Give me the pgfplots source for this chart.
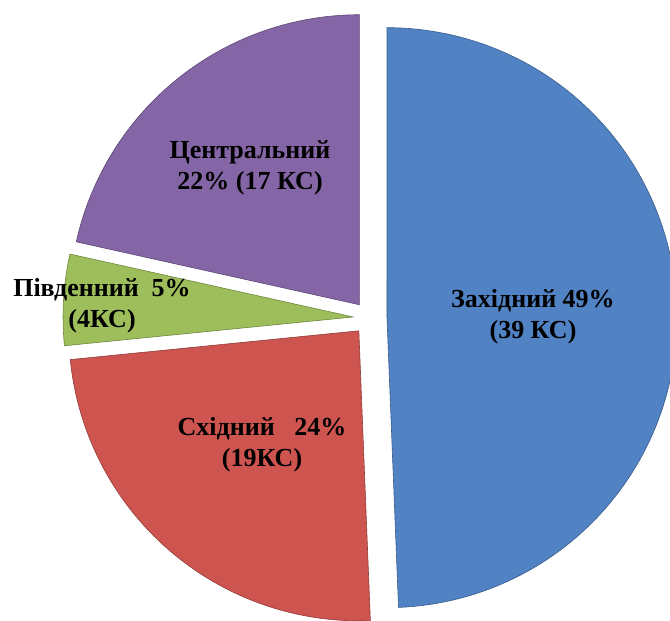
\documentclass[border=0pt]{standalone}
\usepackage{pgfplots}
\usepackage{pgfplotstable}
\pgfplotsset{compat=1.18}
\usepackage{fontspec}
\setmainfont{Liberation Serif}
\definecolor{wblue}{RGB}{81,130,196}
\definecolor{wred}{RGB}{206,84,80}
\definecolor{wgreen}{RGB}{157,190,90}
\definecolor{wpurple}{RGB}{132,102,166}

% counts of KS by region
\pgfplotstableread{
region count
West 39
East 19
South 4
Central 17
}\piedata

\newcommand\pieslice[3]{% start angle, end angle, colour
  \pgfmathsetmacro\midang{(#1+#2)/2}%
  \pgfmathsetmacro\vx{370+17*cos(\midang)}%
  \pgfmathsetmacro\vy{303+17*sin(\midang)}%
  \edef\doslice{\noexpand\addplot[fill=#3, draw=#3!70!black, line width=0.6pt, domain=#2:#1, samples=120]
    ({\vx+290*cos(x)},{\vy+290*sin(x)}) -- (axis cs:\vx,\vy) -- cycle;}%
  \doslice
}

\begin{document}
\begin{tikzpicture}
\pgfplotstablegetelem{0}{count}\of\piedata \let\cA\pgfplotsretval
\pgfplotstablegetelem{1}{count}\of\piedata \let\cB\pgfplotsretval
\pgfplotstablegetelem{2}{count}\of\piedata \let\cC\pgfplotsretval
\pgfplotstablegetelem{3}{count}\of\piedata \let\cD\pgfplotsretval
\pgfmathsetmacro\tot{\cA+\cB+\cC+\cD}
\pgfmathsetmacro\aA{90}
\pgfmathsetmacro\aB{\aA-360*\cA/\tot}
\pgfmathsetmacro\aC{\aB-360*\cB/\tot}
\pgfmathsetmacro\aD{\aC-360*\cC/\tot}
\pgfmathsetmacro\aE{\aD-360*\cD/\tot}
\begin{axis}[hide axis, scale only axis, width=670pt, height=621pt,
  xmin=0, xmax=670, ymin=0, ymax=621, clip=true]
\coordinate (ll) at (rel axis cs:0,0);
\coordinate (ur) at (rel axis cs:1,1);
\pieslice{\aA}{\aB}{wblue}
\pieslice{\aB}{\aC}{wred}
\pieslice{\aC}{\aD}{wgreen}
\pieslice{\aD}{\aE}{wpurple}
\begin{scope}[every node/.style={align=center, font=\bfseries\fontsize{26}{31}\selectfont, text=black}]
\node at (axis cs:533,304) {Західний 49\%\\(39 КС)};
\node at (axis cs:250,453) {Центральний\\22\% (17 КС)};
\node at (axis cs:102,315) {Південний\ \ 5\%\\(4КС)};
\node at (axis cs:262,176) {Східний\ \ \ 24\%\\(19КС)};
\end{scope}
\end{axis}
\pgfresetboundingbox
\path (ll) rectangle (ur);
\end{tikzpicture}
\end{document}
